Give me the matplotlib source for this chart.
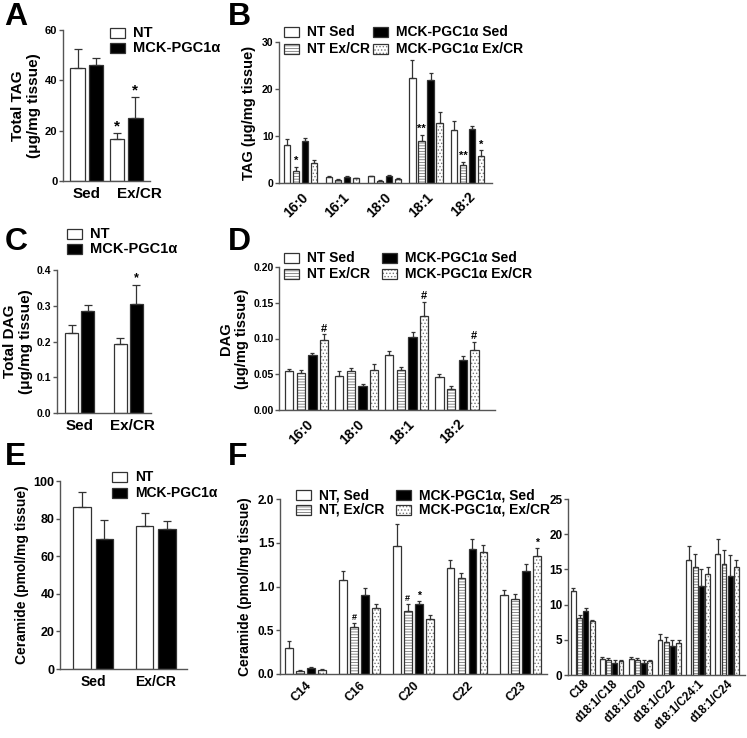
import numpy as np
import matplotlib.pyplot as plt
from matplotlib.patches import Rectangle

plt.rcParams['font.family'] = ['Liberation Sans', 'DejaVu Sans']
plt.rcParams['font.weight'] = 'bold'
plt.rcParams['axes.labelweight'] = 'bold'
plt.rcParams['hatch.linewidth'] = 0.6

W, H = 747, 738
AXC = '#555555'   # axis colour
EDGE = '#333333'  # bar outline / error bars
HATCHC = '#777777'

# ---------------- data ----------------
# A: total TAG (ug/mg tissue)
a_groups = ['Sed', 'Ex/CR']
a_nt = [45.0, 16.6]
a_nt_err = [7.4, 2.3]
a_mck = [46.1, 25.0]
a_mck_err = [2.6, 8.3]

# B: TAG species
b_cats = ['16:0', '16:1', '18:0', '18:1', '18:2']
b_nt_sed = [8.0, 1.3, 1.4, 22.4, 11.2]
b_nt_sed_err = [1.3, 0.15, 0.15, 3.8, 1.9]
b_nt_ex = [2.6, 0.65, 0.45, 8.9, 3.8]
b_nt_ex_err = [0.8, 0.15, 0.15, 1.35, 0.7]
b_mck_sed = [9.0, 1.3, 1.55, 22.0, 11.5]
b_mck_sed_err = [0.55, 0.15, 0.15, 1.35, 0.7]
b_mck_ex = [4.3, 1.0, 0.85, 12.8, 5.8]
b_mck_ex_err = [0.7, 0.15, 0.15, 2.3, 1.15]

# C: total DAG (ug/mg tissue)
c_nt = [0.225, 0.193]
c_nt_err = [0.020, 0.017]
c_mck = [0.285, 0.306]
c_mck_err = [0.016, 0.051]

# D: DAG species
d_cats = ['16:0', '18:0', '18:1', '18:2']
d_nt_sed = [0.055, 0.047, 0.077, 0.046]
d_nt_sed_err = [0.003, 0.007, 0.006, 0.004]
d_nt_ex = [0.0515, 0.055, 0.0557, 0.030]
d_nt_ex_err = [0.0045, 0.004, 0.005, 0.003]
d_mck_sed = [0.077, 0.033, 0.102, 0.070]
d_mck_sed_err = [0.003, 0.004, 0.007, 0.005]
d_mck_ex = [0.0975, 0.0566, 0.131, 0.084]
d_mck_ex_err = [0.0085, 0.0074, 0.020, 0.011]

# E: total ceramide (pmol/mg tissue)
e_nt = [86.2, 75.8]
e_nt_err = [7.8, 7.4]
e_mck = [69.4, 74.3]
e_mck_err = [9.9, 4.4]

# F: ceramide species (low abundance, left)
f1_cats = ['C14', 'C16', 'C20', 'C22', 'C23']
f1_nt_sed = [0.297, 1.072, 1.46, 1.21, 0.905]
f1_nt_sed_err = [0.076, 0.103, 0.26, 0.09, 0.05]
f1_nt_ex = [0.038, 0.536, 0.722, 1.095, 0.852]
f1_nt_ex_err = [0.006, 0.046, 0.078, 0.055, 0.058]
f1_mck_sed = [0.072, 0.90, 0.80, 1.433, 1.18]
f1_mck_sed_err = [0.008, 0.08, 0.033, 0.107, 0.075]
f1_mck_ex = [0.049, 0.76, 0.627, 1.40, 1.354]
f1_mck_ex_err = [0.008, 0.04, 0.046, 0.08, 0.083]

# F: ceramide species (high abundance, right)
f2_cats = ['C18', 'd18:1/C18', 'd18:1/C20', 'd18:1/C22', 'd18:1/C24:1', 'd18:1/C24']
f2_nt_sed = [11.9, 2.25, 2.25, 5.0, 16.4, 17.2]
f2_nt_sed_err = [0.5, 0.25, 0.28, 0.8, 1.9, 2.1]
f2_nt_ex = [8.1, 2.2, 2.2, 4.74, 15.3, 15.7]
f2_nt_ex_err = [0.4, 0.25, 0.25, 0.6, 1.9, 2.1]
f2_mck_sed = [9.15, 1.75, 1.75, 4.17, 12.65, 14.1]
f2_mck_sed_err = [0.35, 0.35, 0.35, 0.83, 2.45, 2.9]
f2_mck_ex = [7.6, 2.04, 2.04, 4.5, 14.3, 15.3]
f2_mck_ex_err = [0.2, 0.16, 0.16, 0.5, 1.0, 1.1]

# bar looks
STY = {
    'nt_sed': dict(fc='white', hatch=None),
    'nt_ex': dict(fc='white', hatch='------'),
    'mck_sed': dict(fc='black', hatch=None),
    'mck_ex': dict(fc='white', hatch='.....'),
}

fig = plt.figure(figsize=(W / 100, H / 100), dpi=100)


def px_axes(l, t, r, b):
    return fig.add_axes([l / W, 1 - b / H, (r - l) / W, (b - t) / H])


def style_axes(ax, xlim, ylim, yticks, fmt, fs):
    ax.set_xlim(*xlim)
    ax.set_ylim(*ylim)
    ax.set_yticks(yticks)
    ax.set_yticklabels([fmt.format(v) for v in yticks], fontweight='bold')
    for s in ('top', 'right'):
        ax.spines[s].set_visible(False)
    for s in ('left', 'bottom'):
        ax.spines[s].set_color(AXC)
        ax.spines[s].set_linewidth(1.0)
    ax.tick_params(axis='y', length=3, width=1, color=AXC, labelsize=fs, pad=1)
    ax.tick_params(axis='x', length=0)


def bars(ax, x, vals, errs, kind, width, cap=2.0):
    st = STY[kind]
    if st['hatch']:
        ax.bar(x, vals, width, color='white', edgecolor=HATCHC, hatch=st['hatch'], lw=0)
        ax.bar(x, vals, width, fill=False, edgecolor=EDGE, lw=0.9)
    else:
        ax.bar(x, vals, width, color=st['fc'], edgecolor=EDGE, lw=0.9)
    ax.errorbar(x, vals, yerr=[np.zeros(len(vals)), errs], fmt='none',
                ecolor=EDGE, elinewidth=0.9, capsize=cap, capthick=0.9)


def mark(ax, x, top, s, fs, dy=0.5):
    ax.annotate(s, (x, top), xytext=(0, dy), textcoords='offset points',
                ha='center', va='bottom', fontsize=fs, fontweight='bold')


def key(x, y, label, kind, fs, w=15, h=10, gap=8):
    st = STY[kind]
    r = Rectangle((x / W, 1 - (y + h) / H), w / W, h / H, transform=fig.transFigure,
                  facecolor=st['fc'], edgecolor=EDGE if not st['hatch'] else HATCHC,
                  hatch=st['hatch'], lw=0 if st['hatch'] else 0.9)
    fig.add_artist(r)
    if st['hatch']:
        fig.add_artist(Rectangle((x / W, 1 - (y + h) / H), w / W, h / H,
                                 transform=fig.transFigure, fill=False,
                                 edgecolor=EDGE, lw=0.9))
    fig.text((x + w + gap) / W, 1 - (y + h / 2) / H, label, fontsize=fs,
             fontweight='bold', va='center', ha='left')


def letter(x, y, s):
    fig.text(x / W, 1 - y / H, s, fontsize=23, fontweight='bold', va='top', ha='left')


def grouped(ax, cats, series, pitch, width, cap, labfs, pad=5):
    x = np.arange(len(cats))
    kinds = ['nt_sed', 'nt_ex', 'mck_sed', 'mck_ex']
    pos = {}
    for i, (k, (v, e)) in enumerate(zip(kinds, series)):
        xi = x + (i - 1.5) * pitch
        bars(ax, xi, v, e, k, width, cap)
        pos[k] = (xi, np.array(v) + np.array(e))
    ax.set_xticks(x)
    ax.set_xticklabels(cats, rotation=45, ha='right', rotation_mode='anchor',
                       fontsize=labfs, fontweight='bold')
    ax.tick_params(axis='x', pad=pad)
    return pos


def cat_labels(ax, fs, shift=0.0):
    # label of the second group sits a little right of its bars, as in the source
    ax.set_xticks([0, 1 + shift])
    ax.set_xticklabels(a_groups, fontsize=fs, fontweight='bold')
    ax.tick_params(axis='x', pad=4)


# ---------------- A ----------------
axA = px_axes(63, 30, 150, 181)
xg = np.arange(2)
bars(axA, xg - 0.235, a_nt, a_nt_err, 'nt_sed', 0.376, 3)
bars(axA, xg + 0.235, a_mck, a_mck_err, 'mck_sed', 0.376, 3)
style_axes(axA, (-0.61, 1.61), (0, 60), [0, 20, 40, 60], '{:g}', 8)
cat_labels(axA, 11, 0.34)
axA.set_ylabel('Total TAG\n(\u03bcg/mg tissue)', fontsize=11, labelpad=3)
for xx, v, e in [(1 - 0.235, a_nt[1], a_nt_err[1]), (1 + 0.235, a_mck[1], a_mck_err[1])]:
    mark(axA, xx, v + e, '*', 11, 0)
key(110, 28, 'NT', 'nt_sed', 10.5)
key(110, 43, 'MCK-PGC1\u03b1', 'mck_sed', 10.5)
letter(4, 2, 'A')

# ---------------- B ----------------
axB = px_axes(279, 42, 492, 183)
pB = grouped(axB, b_cats, [(b_nt_sed, b_nt_sed_err), (b_nt_ex, b_nt_ex_err),
                           (b_mck_sed, b_mck_sed_err), (b_mck_ex, b_mck_ex_err)],
             0.216, 0.15, 1.5, 10)
style_axes(axB, (-0.52, 4.58), (0, 30), [0, 10, 20, 30], '{:g}', 7.5)
axB.set_ylabel('TAG (\u03bcg/mg tissue)', fontsize=10.5, labelpad=4)
mark(axB, pB['nt_ex'][0][0], pB['nt_ex'][1][0], '*', 8)
mark(axB, pB['nt_ex'][0][3], pB['nt_ex'][1][3], '**', 8)
mark(axB, pB['nt_ex'][0][4], pB['nt_ex'][1][4], '**', 8)
mark(axB, pB['mck_ex'][0][4], pB['mck_ex'][1][4], '*', 8)
key(284, 27, 'NT Sed', 'nt_sed', 10)
key(284, 44, 'NT Ex/CR', 'nt_ex', 10)
key(373, 27, 'MCK-PGC1\u03b1 Sed', 'mck_sed', 10)
key(373, 44, 'MCK-PGC1\u03b1 Ex/CR', 'mck_ex', 10)
letter(228, 2, 'B')

# ---------------- C ----------------
axC = px_axes(57, 270, 151, 413)
bars(axC, xg - 0.165, c_nt, c_nt_err, 'nt_sed', 0.27, 3)
bars(axC, xg + 0.165, c_mck, c_mck_err, 'mck_sed', 0.27, 3)
style_axes(axC, (-0.476, 1.476), (0, 0.4), [0, 0.1, 0.2, 0.3, 0.4], '{:.1f}', 7.5)
cat_labels(axC, 11, 0.1)
axC.set_ylabel('Total DAG\n(\u03bcg/mg tissue)', fontsize=11, labelpad=3)
mark(axC, 1 + 0.165, c_mck[1] + c_mck_err[1], '*', 9, 1)
key(67, 229, 'NT', 'nt_sed', 10.5)
key(67, 244, 'MCK-PGC1\u03b1', 'mck_sed', 10.5)
letter(5, 227, 'C')

# ---------------- D ----------------
axD = px_axes(279, 267, 495, 410)
pD = grouped(axD, d_cats, [(d_nt_sed, d_nt_sed_err), (d_nt_ex, d_nt_ex_err),
                           (d_mck_sed, d_mck_sed_err), (d_mck_ex, d_mck_ex_err)],
             0.233, 0.167, 1.5, 10)
style_axes(axD, (-0.55, 3.76), (0, 0.2), [0, 0.05, 0.10, 0.15, 0.20], '{:.2f}', 7.5)
axD.set_ylabel('DAG\n(\u03bcg/mg tissue)', fontsize=10.5, labelpad=3)
for j in (0, 2, 3):
    mark(axD, pD['mck_ex'][0][j], pD['mck_ex'][1][j], '#', 8)
key(284, 253, 'NT Sed', 'nt_sed', 10)
key(284, 269, 'NT Ex/CR', 'nt_ex', 10)
key(382, 253, 'MCK-PGC1\u03b1 Sed', 'mck_sed', 10)
key(382, 269, 'MCK-PGC1\u03b1 Ex/CR', 'mck_ex', 10)
letter(228, 227, 'D')

# ---------------- E ----------------
axE = px_axes(60, 481, 187, 669)
bars(axE, xg - 0.178, e_nt, e_nt_err, 'nt_sed', 0.277, 3)
bars(axE, xg + 0.178, e_mck, e_mck_err, 'mck_sed', 0.277, 3)
style_axes(axE, (-0.53, 1.5), (0, 100), [0, 20, 40, 60, 80, 100], '{:g}', 9)
cat_labels(axE, 10)
axE.set_ylabel('Ceramide (pmol/mg tissue)', fontsize=10, labelpad=3)
key(112, 472, 'NT', 'nt_sed', 10)
key(112, 488, 'MCK-PGC1\u03b1', 'mck_sed', 10)
letter(5, 442, 'E')

# ---------------- F ----------------
axF1 = px_axes(280, 499, 547, 674)
pF = grouped(axF1, f1_cats, [(f1_nt_sed, f1_nt_sed_err), (f1_nt_ex, f1_nt_ex_err),
                             (f1_mck_sed, f1_mck_sed_err), (f1_mck_ex, f1_mck_ex_err)],
             0.205, 0.146, 1.5, 9, 4)
style_axes(axF1, (-0.48, 4.49), (0, 2.0), [0, 0.5, 1.0, 1.5, 2.0], '{:.1f}', 8.5)
axF1.set_ylabel('Ceramide (pmol/mg tissue)', fontsize=10, labelpad=4)
mark(axF1, pF['nt_ex'][0][1], pF['nt_ex'][1][1], '#', 6.5)
mark(axF1, pF['nt_ex'][0][2], pF['nt_ex'][1][2], '#', 6.5)
mark(axF1, pF['mck_sed'][0][2], pF['mck_sed'][1][2], '*', 7.5)
mark(axF1, pF['mck_ex'][0][4], pF['mck_ex'][1][4], '*', 7.5)
key(296, 490, 'NT, Sed', 'nt_sed', 10)
key(296, 505, 'NT, Ex/CR', 'nt_ex', 10)
key(396, 490, 'MCK-PGC1\u03b1, Sed', 'mck_sed', 10)
key(396, 505, 'MCK-PGC1\u03b1, Ex/CR', 'mck_ex', 10)
letter(228, 442, 'F')

axF2 = px_axes(568, 499, 745, 675)
grouped(axF2, f2_cats, [(f2_nt_sed, f2_nt_sed_err), (f2_nt_ex, f2_nt_ex_err),
                        (f2_mck_sed, f2_mck_sed_err), (f2_mck_ex, f2_mck_ex_err)],
        0.216, 0.17, 1.2, 8.3, 2)
style_axes(axF2, (-0.51, 5.62), (0, 25), [0, 5, 10, 15, 20, 25], '{:g}', 8.5)

fig.savefig('out.png', dpi=100, facecolor='white')
